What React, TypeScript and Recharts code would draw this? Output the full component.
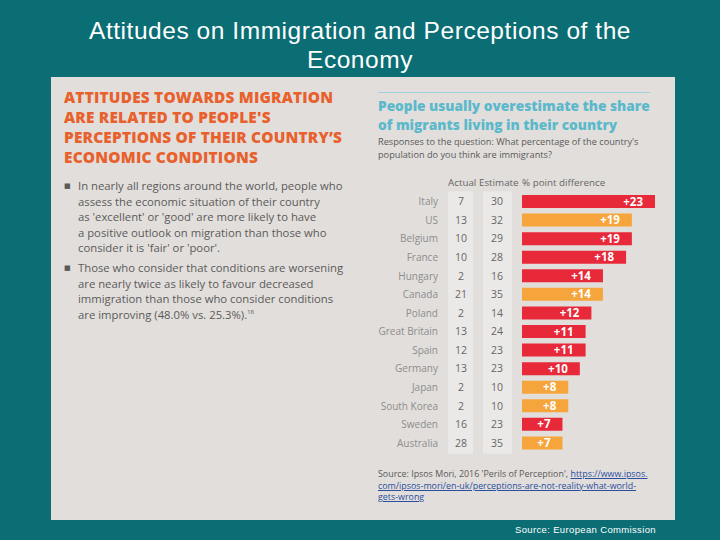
import { BarChart, Bar, XAxis, YAxis, Cell, LabelList } from 'recharts';

const countries = ['Italy', 'US', 'Belgium', 'France', 'Hungary', 'Canada', 'Poland', 'Great Britain', 'Spain', 'Germany', 'Japan', 'South Korea', 'Sweden', 'Australia'];
const actual = [7, 13, 10, 10, 2, 21, 2, 13, 12, 13, 2, 2, 16, 28];
const estimate = [30, 32, 29, 28, 16, 35, 14, 24, 23, 23, 10, 10, 23, 35];
const difference = [23, 19, 19, 18, 14, 14, 12, 11, 11, 10, 8, 8, 7, 7];
// orange = non-EU countries
const highlighted = [false, true, false, false, false, true, false, false, false, false, true, true, false, true];

const RED = '#e8293a';
const ORANGE = '#f6a53c';
const TEAL = '#0a6e74';
const PANEL = '#e2dedb';

const data = countries.map((c, i) => ({
  country: c,
  actual: actual[i],
  estimate: estimate[i],
  diff: difference[i],
}));

const bodyFont = '"Open Sans", "DejaVu Sans", sans-serif';

// country name + Actual + Estimate columns drawn as the y-axis tick
const CountryTick = (props: any) => {
  const { y, payload, index } = props;
  const row = data[index] ?? data.find((d) => d.country === payload.value);
  return (
    <g>
      <rect x={448} y={y - 10} width={25} height={21} fill="#ebe9e7" />
      <rect x={483} y={y - 10} width={29} height={21} fill="#ebe9e7" />
      <text x={438} y={y} dy={4} textAnchor="end" fontSize={10} fill="#8d8d8d" fontFamily={bodyFont}>
        {payload.value}
      </text>
      <text x={461} y={y} dy={4} textAnchor="middle" fontSize={10.5} fill="#666" fontFamily={bodyFont}>
        {row?.actual}
      </text>
      <text x={497} y={y} dy={4} textAnchor="middle" fontSize={10.5} fill="#666" fontFamily={bodyFont}>
        {row?.estimate}
      </text>
    </g>
  );
};

export default function App() {
  return (
    <div style={{ position: 'absolute', left: 0, top: 0, width: 720, height: 540, background: TEAL, overflow: 'hidden', fontFamily: bodyFont }}>
      <div style={{ position: 'absolute', top: 16, left: 0, width: 720, textAlign: 'center', color: '#fff', fontFamily: '"Liberation Sans", Arial, sans-serif', fontSize: 24.5, lineHeight: '29px', letterSpacing: 0.55 }}>
        Attitudes on Immigration and Perceptions of the
        <br />
        Economy
      </div>

      <div style={{ position: 'absolute', left: 51, top: 77, width: 624, height: 443, background: PANEL }}>
        {/* left text column */}
        <div style={{ position: 'absolute', left: 13, top: 11, width: 300, color: '#e8612c', fontWeight: 800, fontSize: 15.4, lineHeight: '20px', letterSpacing: 0.2, whiteSpace: 'nowrap' }}>
          ATTITUDES TOWARDS MIGRATION
          <br />
          ARE RELATED TO PEOPLE'S
          <br />
          PERCEPTIONS OF THEIR COUNTRY’S
          <br />
          ECONOMIC CONDITIONS
        </div>
        <div style={{ position: 'absolute', left: 13, top: 101, width: 290, color: '#5a5a5a', fontSize: 11.3, lineHeight: '15.6px', whiteSpace: 'nowrap' }}>
          <div style={{ display: 'flex' }}>
            <span style={{ width: 14, flexShrink: 0, fontSize: 7 }}>■</span>
            <span>
              In nearly all regions around the world, people who
              <br />
              assess the economic situation of their country
              <br />
              as 'excellent' or 'good' are more likely to have
              <br />
              a positive outlook on migration than those who
              <br />
              consider it is 'fair' or 'poor'.
            </span>
          </div>
          <div style={{ display: 'flex', marginTop: 4 }}>
            <span style={{ width: 14, flexShrink: 0, fontSize: 7 }}>■</span>
            <span>
              Those who consider that conditions are worsening
              <br />
              are nearly twice as likely to favour decreased
              <br />
              immigration than those who consider conditions
              <br />
              are improving (48.0% vs. 25.3%).
              <span style={{ fontSize: 6, position: 'relative', top: -5 }}>18</span>
            </span>
          </div>
        </div>

        {/* right column header */}
        <div style={{ position: 'absolute', left: 327, top: 15, width: 272, height: 1, background: '#9fd3dc' }} />
        <div style={{ position: 'absolute', left: 327, top: 19, width: 290, color: '#5bb9cb', fontWeight: 800, fontSize: 13.7, lineHeight: '19px', whiteSpace: 'nowrap' }}>
          People usually overestimate the share
          <br />
          of migrants living in their country
        </div>
        <div style={{ position: 'absolute', left: 327, top: 58, width: 290, color: '#5a5a5a', fontSize: 9.2, lineHeight: '13px', whiteSpace: 'nowrap' }}>
          Responses to the question: What percentage of the country's
          <br />
          population do you think are immigrants?
        </div>
        <div style={{ position: 'absolute', top: 99, left: 0, fontSize: 9.8, color: '#666', whiteSpace: 'nowrap' }}>
          <span style={{ position: 'absolute', left: 397 }}>Actual</span>
          <span style={{ position: 'absolute', left: 428 }}>Estimate</span>
          <span style={{ position: 'absolute', left: 471 }}>% point difference</span>
        </div>

        <div style={{ position: 'absolute', left: 327, top: 391, width: 290, color: '#5a5a5a', fontSize: 8.9, lineHeight: '11.5px', whiteSpace: 'nowrap' }}>
          Source: Ipsos Mori, 2016 'Perils of Perception', <span style={{ color: '#2a4f9e', textDecoration: 'underline' }}>https://www.ipsos.</span>
          <br />
          <span style={{ color: '#2a4f9e', textDecoration: 'underline' }}>com/ipsos-mori/en-uk/perceptions-are-not-reality-what-world-</span>
          <br />
          <span style={{ color: '#2a4f9e', textDecoration: 'underline' }}>gets-wrong</span>
        </div>
      </div>

      <div style={{ position: 'absolute', left: 0, top: 180 }}>
        <BarChart width={655} height={280} data={data} layout="vertical" margin={{ top: 12, right: 0, bottom: 8, left: 0 }}>
          <XAxis type="number" domain={[0, 23]} hide />
          <YAxis
            type="category"
            dataKey="country"
            width={522}
            axisLine={false}
            tickLine={false}
            interval={0}
            tick={<CountryTick />}
          />
          <Bar dataKey="diff" barSize={13} isAnimationActive={false}>
            {data.map((d, i) => (
              <Cell key={d.country} fill={highlighted[i] ? ORANGE : RED} />
            ))}
            <LabelList
              dataKey="diff"
              position="insideRight"
              offset={12}
              formatter={(v: any) => `+${v}`}
              fill="#fff"
              fontSize={11.5}
              fontWeight={700}
              fontFamily={bodyFont}
            />
          </Bar>
        </BarChart>
      </div>

      <div style={{ position: 'absolute', left: 515, top: 524, color: '#fff', fontFamily: '"Liberation Sans", Arial, sans-serif', fontSize: 9.5, letterSpacing: 0.35 }}>
        Source: European Commission
      </div>
    </div>
  );
}
